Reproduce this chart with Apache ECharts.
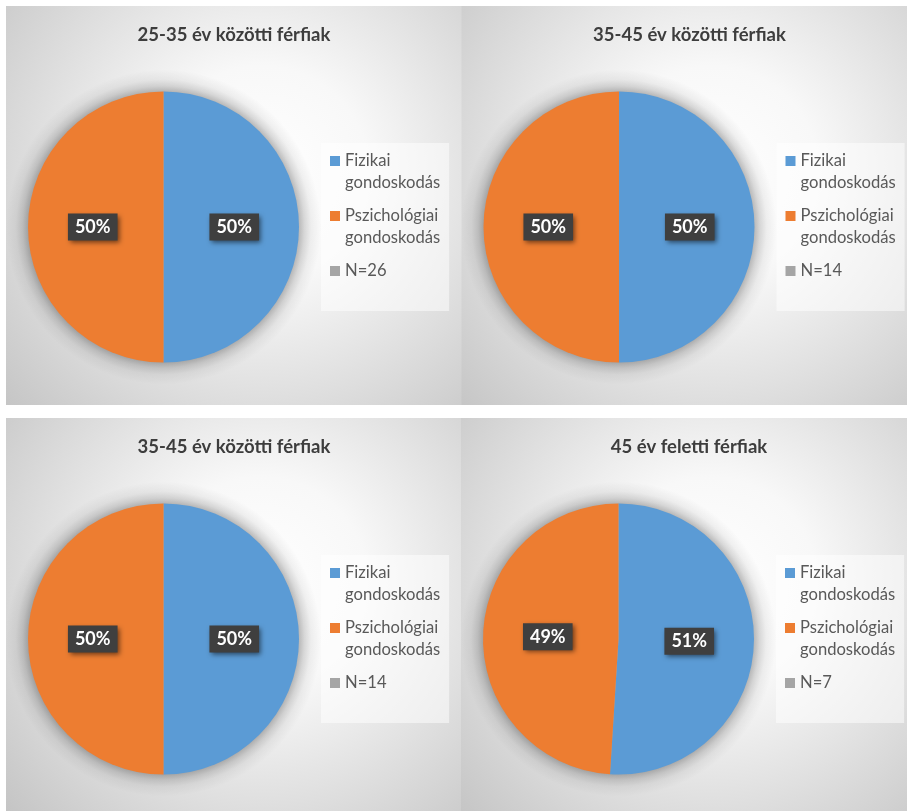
<!DOCTYPE html>
<html>
<head>
<meta charset="utf-8">
<script src="https://cdn.jsdelivr.net/npm/echarts@6/dist/echarts.min.js"></script>
<style>
  html, body { margin: 0; padding: 0; background: #ffffff; }
  #chart { width: 907px; height: 811px; }
</style>
</head>
<body>
<div id="chart"></div>
<script>
// Gondoskodás típusa korcsoportonként (férfiak)
const panelTitles = ['25-35 év közötti férfiak', '35-45 év közötti férfiak', '35-45 év közötti férfiak', '45 év feletti férfiak'];
const categories = ['Fizikai gondoskodás', 'Pszichológiai gondoskodás'];
const fizikai = [50, 50, 50, 51];
const pszichologiai = [50, 50, 50, 49];
const sampleSizes = ['N=26', 'N=14', 'N=14', 'N=7'];

const colors = ['#5B9BD5', '#ED7D31', '#A5A5A5'];
const FONT = 'Lato, "Open Sans", sans-serif';

// panel frames: [x, y, width, height]
const panels = [
  [6, 6, 456, 399],
  [461.5, 6, 446, 399],
  [6, 418, 456, 393],
  [461, 418, 446, 393]
];
const PIE_R = 135.5;
const HALO = 22;

// legend icon: square at the top of a two-line slot
const legendIcon = 'path://M0,6H10V16H0Z M0,0L0.1,0 M0,44L0.1,44';

const chart = echarts.init(document.getElementById('chart'), null, { renderer: 'canvas' });

const graphics = [];
const titles = [];
const legends = [];
const series = [];

panels.forEach(function (p, i) {
  const px = p[0], py = p[1], pw = p[2], ph = p[3];
  const cx = px + 157.5;
  const cy = py + 221;

  graphics.push({
    type: 'rect',
    silent: true,
    z: 0,
    z2: 0,
    shape: { x: px, y: py, width: pw, height: ph },
    style: {
      fill: new echarts.graphic.RadialGradient(0.56, 0.42, 0.9, [
        { offset: 0, color: '#ffffff' },
        { offset: 0.3, color: '#f8f8f8' },
        { offset: 1, color: '#c2c2c2' }
      ])
    }
  });

  // soft halo behind the pie
  const edge = PIE_R / (PIE_R + HALO);
  graphics.push({
    type: 'circle',
    silent: true,
    z: 1,
    z2: 1,
    shape: { cx: cx, cy: cy, r: PIE_R + HALO },
    style: {
      fill: new echarts.graphic.RadialGradient(0.5, 0.5, 0.5, [
        { offset: 0, color: 'rgba(0,0,0,0.28)' },
        { offset: edge - 0.005, color: 'rgba(0,0,0,0.28)' },
        { offset: edge + (1 - edge) * 0.25, color: 'rgba(0,0,0,0.14)' },
        { offset: edge + (1 - edge) * 0.55, color: 'rgba(0,0,0,0.05)' },
        { offset: 1, color: 'rgba(0,0,0,0)' }
      ])
    }
  });

  titles.push({
    text: panelTitles[i],
    left: px + 228,
    top: py + 20,
    padding: 0,
    textAlign: 'center',
    textVerticalAlign: 'top',
    textStyle: { fontFamily: FONT, fontWeight: 'bold', fontSize: 18.5, color: '#3d3d3d' }
  });

  legends.push({
    orient: 'vertical',
    left: px + 315,
    top: py + 137,
    padding: [7, 9, 7, 9],
    backgroundColor: 'rgba(255,255,255,0.5)',
    itemGap: 11,
    itemWidth: 10,
    itemHeight: 44,
    icon: legendIcon,
    selectedMode: false,
    data: categories.concat([sampleSizes[i]]),
    formatter: function (name) {
      return name.indexOf(' ') >= 0 ? name.replace(' ', '\n') : name + '\n ';
    },
    textStyle: { fontFamily: FONT, fontSize: 16.6, lineHeight: 22, color: '#595959' }
  });

  series.push({
    type: 'pie',
    name: panelTitles[i],
    z: 3,
    center: [cx, cy],
    radius: PIE_R,
    startAngle: 90,
    clockwise: true,
    silent: true,
    itemStyle: { borderWidth: 0 },
    label: {
      show: true,
      position: 'inside',
      formatter: '{c}%',
      fontFamily: FONT,
      fontWeight: 'bold',
      fontSize: 18,
      color: '#ffffff',
      backgroundColor: '#3f3f3f',
      padding: [5, 7, 4, 7],
      shadowColor: 'rgba(0,0,0,0.55)',
      shadowBlur: 5,
      shadowOffsetX: 2,
      shadowOffsetY: 2
    },
    labelLine: { show: false },
    data: [
      { name: categories[0], value: fizikai[i], itemStyle: { color: colors[0] } },
      { name: categories[1], value: pszichologiai[i], itemStyle: { color: colors[1] } },
      { name: sampleSizes[i], value: 0, itemStyle: { color: colors[2] }, label: { show: false } }
    ]
  });
});

chart.setOption({
  animation: false,
  backgroundColor: '#ffffff',
  color: colors,
  graphic: graphics,
  title: titles,
  legend: legends,
  series: series
});
</script>
</body>
</html>
